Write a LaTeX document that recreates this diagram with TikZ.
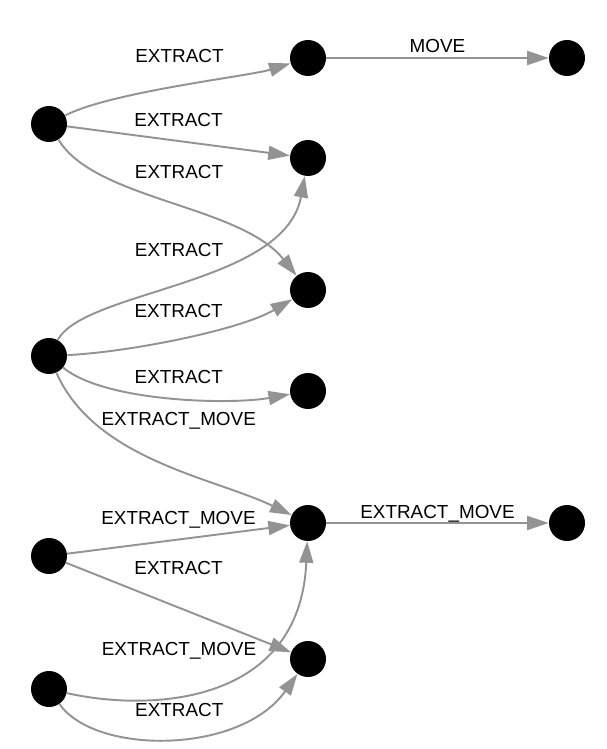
\documentclass[tikz,border=0pt]{standalone}
\usepackage{fontspec}
\setmainfont{Liberation Sans}
\usetikzlibrary{arrows.meta}
\definecolor{edgegray}{HTML}{939393}

\begin{document}
\begin{tikzpicture}[x=0.02cm,y=0.02cm,>={Triangle[length=0.43cm,width=0.28cm]}]
  \tikzstyle{state}=[circle,fill=black,inner sep=0pt,minimum size=0.72cm]
  \tikzstyle{trans}=[->,draw=edgegray,line width=1.1pt]
  \tikzstyle{lbl}=[inner sep=0pt,text=black,font=\fontsize{10.75}{12}\selectfont]
  \useasboundingbox (0,0) rectangle (606,-749);
  % left column
  \node[state] (a1) at (49,-124) {};
  \node[state] (a2) at (49,-356) {};
  \node[state] (a3) at (49,-556) {};
  \node[state] (a4) at (49,-689) {};
  % middle column
  \node[state] (b1) at (308,-58) {};
  \node[state] (b2) at (308,-158) {};
  \node[state] (b3) at (308,-290) {};
  \node[state] (b4) at (308,-391) {};
  \node[state] (b5) at (308,-523) {};
  \node[state] (b6) at (308,-659) {};
  % right column
  \node[state] (c1) at (567,-58) {};
  \node[state] (c2) at (567,-523) {};
  % transitions
  \draw[trans] (a1) .. controls (110,-92) and (250,-76) .. (b1) node[lbl,midway,yshift=0.59cm] {EXTRACT};
  \draw[trans] (a1) -- (b2) node[lbl,midway,yshift=0.42cm] {EXTRACT};
  \draw[trans] (a1) .. controls (95,-200) and (240,-205) .. (b3) node[lbl,midway,xshift=0.18cm,yshift=0.64cm] {EXTRACT};
  \draw[trans] (a2) .. controls (85,-290) and (285,-285) .. (b2) node[lbl,midway,xshift=-0.1cm,yshift=0.6cm] {EXTRACT};
  \draw[trans] (a2) .. controls (130,-352) and (240,-330) .. (b3) node[lbl,midway,xshift=-0.1cm,yshift=0.53cm] {EXTRACT};
  \draw[trans] (a2) .. controls (105,-402) and (230,-405) .. (b4) node[lbl,midway,xshift=0.18cm,yshift=0.42cm] {EXTRACT};
  \draw[trans] (a2) .. controls (95,-460) and (215,-478) .. (b5) node[lbl,midway,xshift=0.38cm,yshift=0.83cm] {EXTRACT\_MOVE};
  \draw[trans] (a3) -- (b5) node[lbl,midway,yshift=0.39cm] {EXTRACT\_MOVE};
  \draw[trans] (a3) -- (b6) node[lbl,midway,yshift=0.79cm] {EXTRACT};
  \draw[trans] (a4) .. controls (150,-712) and (300,-705) .. (b5) node[lbl,midway,xshift=-0.73cm,yshift=0.69cm] {EXTRACT\_MOVE};
  \draw[trans] (a4) .. controls (95,-755) and (240,-755) .. (b6) node[lbl,midway,xshift=0.18cm,yshift=0.57cm] {EXTRACT};
  \draw[trans] (b1) -- (c1) node[lbl,midway,yshift=0.24cm] {MOVE};
  \draw[trans] (b5) -- (c2) node[lbl,midway,yshift=0.18cm] {EXTRACT\_MOVE};
\end{tikzpicture}
\end{document}
